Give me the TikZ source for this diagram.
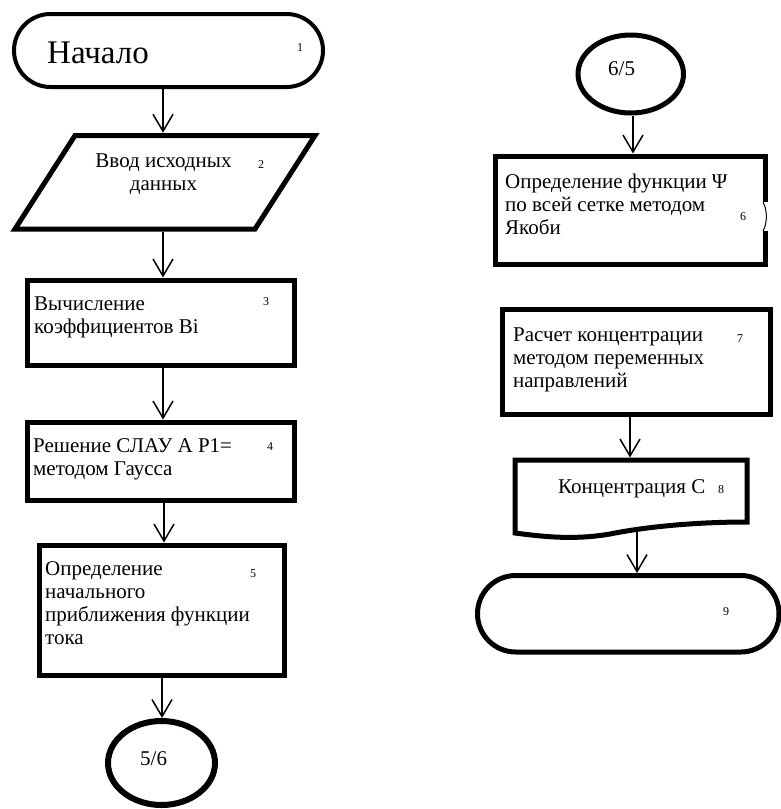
\documentclass[tikz,border=0pt]{standalone}
\usepackage{fontspec}
\setmainfont{Liberation Serif}
\usetikzlibrary{arrows.meta,shapes.geometric,shapes.misc}
\begin{document}
\begin{tikzpicture}[x=1pt,y=-1pt,
  proc/.style={draw,line width=5pt,inner sep=0pt,rectangle},
  term/.style={draw,line width=4pt,inner sep=0pt,rounded rectangle},
  conn/.style={draw,line width=5pt,inner sep=0pt,ellipse},
  slot/.style={inner sep=0pt,outer sep=0pt,rectangle},
  outline/.style={line width=5pt,line join=miter},
  txt/.style={inner sep=0pt,anchor=base west,font=\fontsize{21}{23}\selectfont},
  num/.style={inner sep=0pt,anchor=base west,font=\fontsize{12}{14}\selectfont},
  arr/.style={line width=1.5pt,-{Straight Barb[length=17pt,width=20pt]}},
]
\useasboundingbox (0,0) rectangle (781,809);

% ---- left column ----
% 1: start
\node[term,minimum width=309,minimum height=73] (s1) at (168.5,50.5) {};
\node[txt,font=\fontsize{33}{38}\selectfont] (t1) at (47,63) {Начало};
\node[num] (n1) at (297,51) {1};

% 2: input (parallelogram)
\node[slot,minimum width=310,minimum height=99] (s2) at (165,182.25) {};
\draw[outline] (75,135.5) -- (315,135.5) -- (255,229) -- (15,229) -- cycle;
\node[txt,anchor=base] (t2a) at (163.5,167) {Ввод исходных};
\node[txt,anchor=base] (t2b) at (163.5,190) {данных};
\node[num] (n2) at (258,168) {2};

% 3
\node[proc,minimum width=267,minimum height=85] (s3) at (160.5,322.5) {};
\node[txt] (t3a) at (34,310) {Вычисление};
\node[txt] (t3b) at (34,333) {коэффициентов Bi};
\node[num] (n3) at (263,305) {3};

% 4
\node[proc,minimum width=267,minimum height=78] (s4) at (160.5,461) {};
\node[txt] (t4a) at (33,452) {Решение СЛАУ А P1=};
\node[txt] (t4b) at (33,475) {методом Гаусса};
\node[num] (n4) at (267,450) {4};

% 5
\node[proc,minimum width=245,minimum height=130] (s5) at (161.5,610) {};
\node[txt] (t5a) at (45,575) {Определение};
\node[txt] (t5b) at (45,598) {начального};
\node[txt] (t5c) at (45,621) {приближения функции};
\node[txt] (t5d) at (45,644) {тока};
\node[num] (n5) at (250,577) {5};

% off-page connector 5/6
\node[conn,line width=6pt,minimum width=107,minimum height=84] (e56) at (161.5,763) {};
\node[txt] (te56) at (140,765) {5/6};

% ---- right column ----
% off-page connector 6/5
\node[conn,minimum width=105.5,minimum height=78] (e65) at (630.75,74) {};
\node[txt] (te65) at (608,75) {6/5};

% 6
\node[proc,minimum width=270,minimum height=108] (s6) at (630,210) {};
\fill[white] (761,202) rectangle (769,231);
\draw[line width=1pt] (763,202) .. controls (767.5,210) and (767.5,223) .. (763,231);
\node[txt] (t6a) at (505,188) {Определение функции Ψ};
\node[txt] (t6b) at (505,211) {по всей сетке методом};
\node[txt] (t6c) at (505,234) {Якоби};
\node[num] (n6) at (740,220) {6};

% 7
\node[proc,minimum width=268,minimum height=105] (s7) at (636,361.5) {};
\node[txt] (t7a) at (513,341) {Расчет концентрации};
\node[txt] (t7b) at (513,364) {методом переменных};
\node[txt] (t7c) at (513,387) {направлений};
\node[num] (n7) at (737,342) {7};

% 8: document
\node[slot,minimum width=237,minimum height=78.5] (s8) at (631,496.75) {};
\draw[outline] (515,533) -- (515,460) -- (747,460) -- (747,522)
  .. controls (700,522) and (650,526) .. (610,534)
  .. controls (575,540) and (545,537) .. (515,533) -- cycle;
\coordinate (w8) at (637,532);
\node[txt] (t8) at (558,493) {Концентрация C};
\node[num] (n8) at (718,493) {8};

% 9: end
\node[term,line width=5pt,minimum width=301.5,minimum height=76.5] (s9) at (628.25,613.75) {};
\node[num] (n9) at (723,615) {9};

% ---- flow lines ----
\draw[arr] (s1.south -| 163,0) -- (s2.north -| 163,0);
\draw[arr] (s2.south -| 163,0) -- (s3.north -| 163,0);
\draw[arr] (s3.south -| 163,0) -- (s4.north -| 163,0);
\draw[arr] (s4.south -| 164,0) -- (s5.north -| 164,0);
\draw[arr] (s5.south -| 162,0) -- (e56.north -| 162,0);
\draw[arr] (e65.south -| 633,0) -- (s6.north -| 633,0);
\draw[arr] (s7.south -| 630,0) -- (s8.north -| 630,0);
\draw[arr] (w8) -- (s9.north -| w8);
\end{tikzpicture}
\end{document}
